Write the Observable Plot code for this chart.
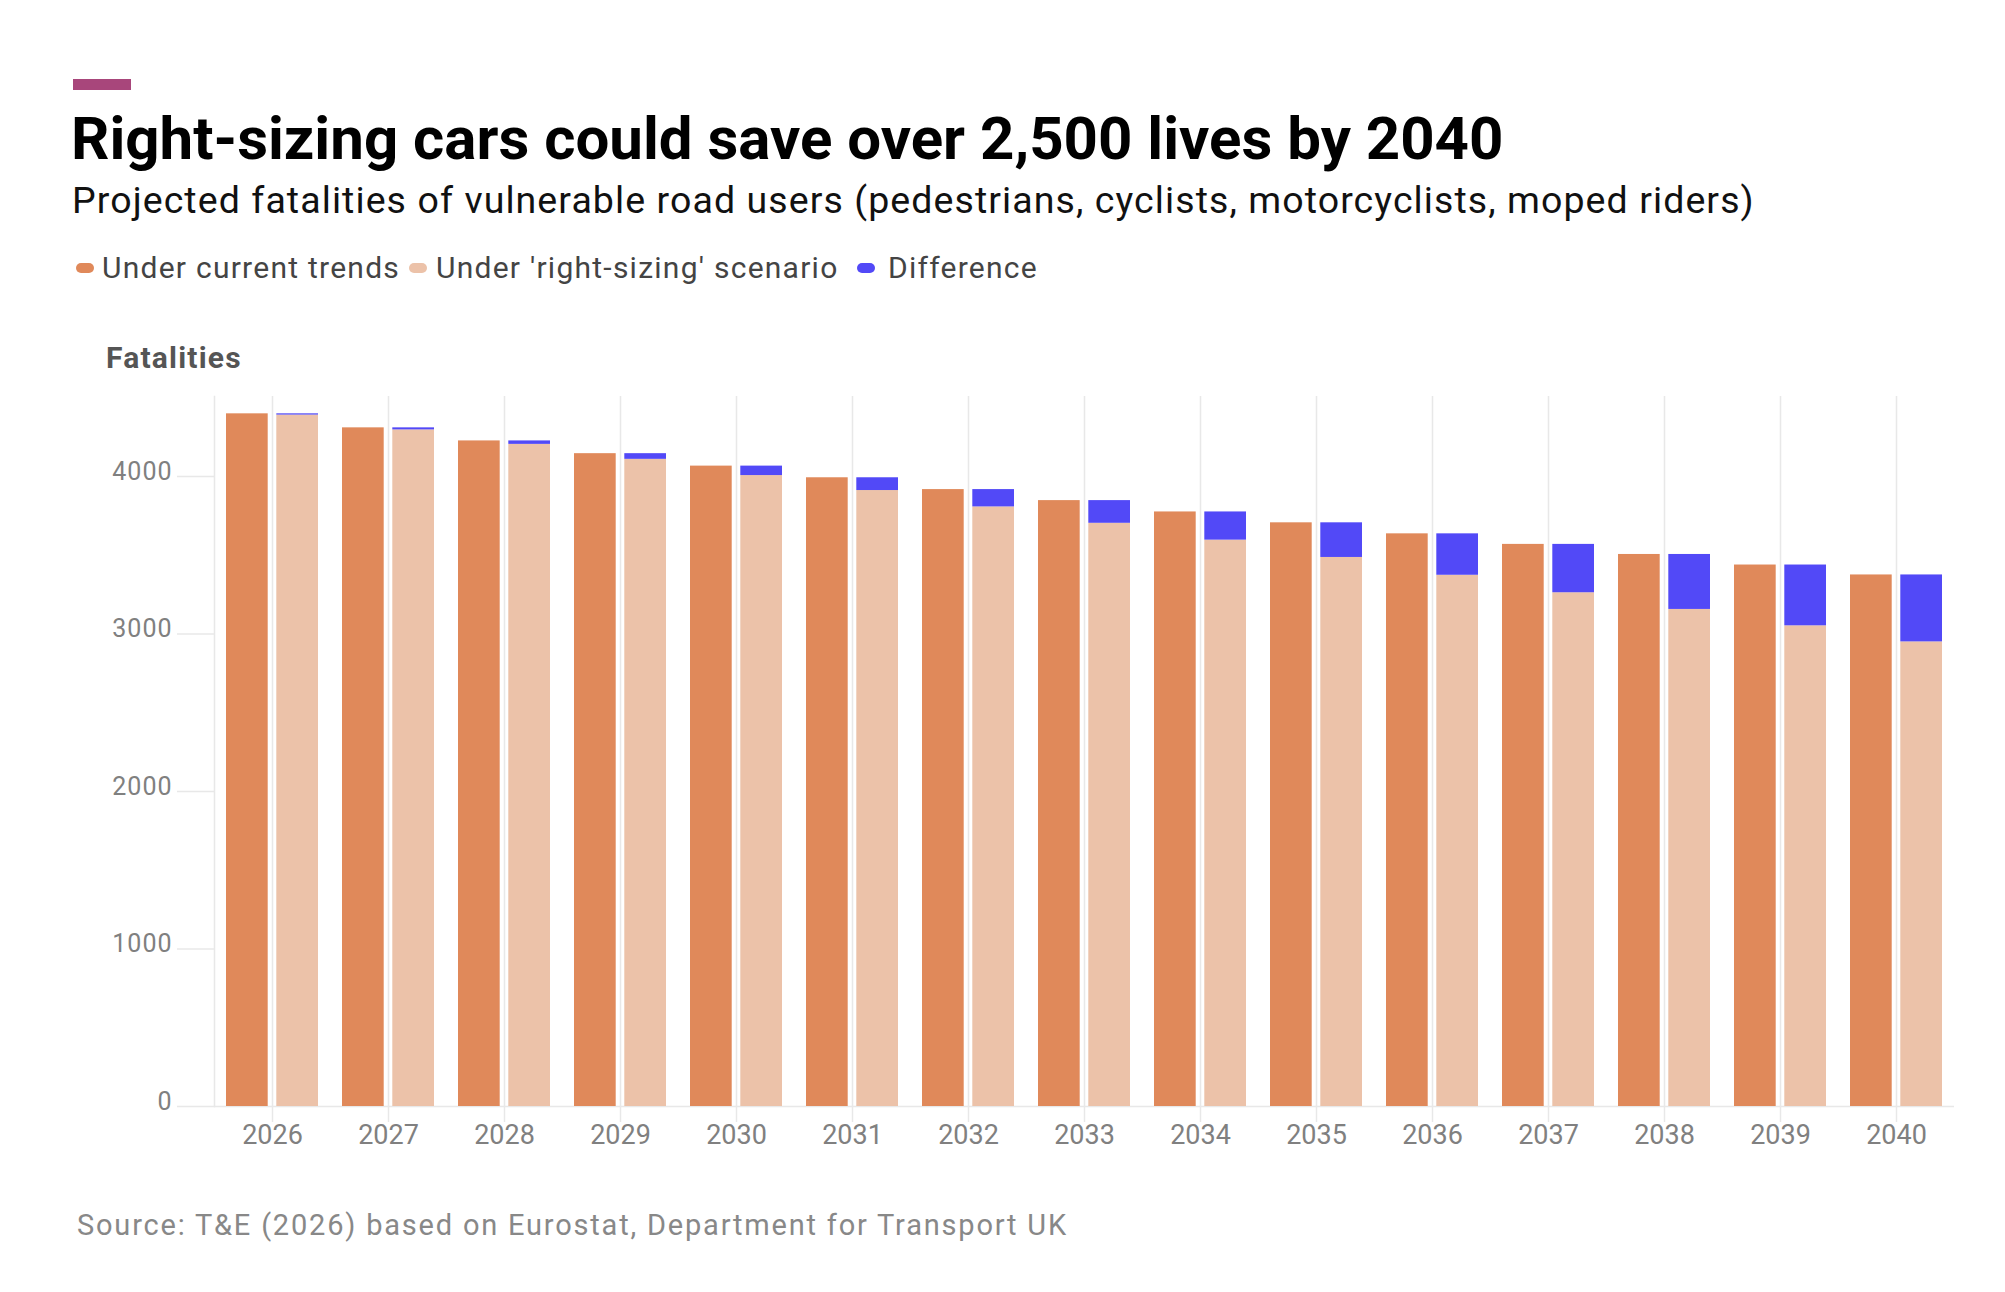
<!DOCTYPE html>
<html><head><meta charset="utf-8">
<script src="https://cdn.jsdelivr.net/npm/d3@7"></script>
<script src="https://cdn.jsdelivr.net/npm/@observablehq/plot@0.6"></script>
<style>
html,body{margin:0;padding:0;background:#fff;}
body{width:2005px;height:1292px;position:relative;font-family:Roboto,"Noto Sans",sans-serif;overflow:hidden;}
.abs{position:absolute;white-space:nowrap;line-height:1;}
#accent{left:73px;top:79px;width:58px;height:11px;background:#A8467B;}
#title{left:71px;top:109px;font-size:60px;font-weight:700;color:#000;}
#subtitle{left:72px;top:182px;font-size:37.5px;font-weight:400;color:#111;letter-spacing:1.08px;}
.sw{position:absolute;top:263px;height:10px;width:18px;border-radius:5px;}
.lt{font-size:30px;color:#444;top:253px;letter-spacing:1.25px;}
#ylab{left:106px;top:343px;font-size:30px;font-weight:700;color:#555;letter-spacing:1.2px;}
#source{left:77px;top:1211px;font-size:29px;color:#888;letter-spacing:1.8px;}
#chart{position:absolute;left:0;top:380px;}
</style>
</head><body>
<div id="accent" class="abs"></div>
<div id="title" class="abs">Right-sizing cars could save over 2,500 lives by 2040</div>
<div id="subtitle" class="abs">Projected fatalities of vulnerable road users (pedestrians, cyclists, motorcyclists, moped riders)</div>
<div class="sw" style="left:76px;background:#E0895A"></div>
<div class="abs lt" style="left:102px">Under current trends</div>
<div class="sw" style="left:409px;background:#ECC2A9"></div>
<div class="abs lt" style="left:436px">Under 'right-sizing' scenario</div>
<div class="sw" style="left:857px;background:#5249F7"></div>
<div class="abs lt" style="left:888px">Difference</div>
<div id="ylab" class="abs">Fatalities</div>
<div id="chart"></div>
<div id="source" class="abs">Source: T&amp;E (2026) based on Eurostat, Department for Transport UK</div>
<script>
const years = [2026, 2027, 2028, 2029, 2030, 2031, 2032, 2033, 2034, 2035, 2036, 2037, 2038, 2039, 2040];
const currentTrends = [4398, 4309, 4226, 4145, 4066, 3992, 3917, 3847, 3775, 3706, 3636, 3569, 3505, 3438, 3375];
const rightSizing = [4390, 4296, 4204, 4109, 4006, 3911, 3807, 3703, 3596, 3486, 3373, 3262, 3156, 3052, 2950];
const yTicks = [0, 1000, 2000, 3000, 4000];

const colCurrent = "#E0895A";
const colRight = "#ECC2A9";
const colDiff = "#5249F7";
const gridCol = "#e8e8e8";

const rows = years.map((y, i) => ({year: String(y), current: currentTrends[i], right: rightSizing[i]}));

const chart = Plot.plot({
  width: 2005,
  height: 786,
  marginTop: 16,
  marginBottom: 60,
  marginLeft: 214,
  marginRight: 51,
  x: {type: "band", domain: years.map(String), padding: 0, label: null},
  y: {domain: [0, 4508], label: null},
  style: {fontFamily: "Roboto, 'Noto Sans', sans-serif", background: "transparent"},
  marks: [
    Plot.gridX({stroke: gridCol, strokeOpacity: 1, strokeWidth: 1.5}),
    Plot.frame({anchor: "left", stroke: gridCol, strokeWidth: 1.5}),
    Plot.ruleY([0], {stroke: gridCol, strokeWidth: 1.5}),
    Plot.axisX({tickSize: 16, tickPadding: 2, stroke: gridCol, strokeOpacity: 1, strokeWidth: 1.5, fill: "#808080", fontSize: 27, label: null}),
    Plot.axisY({ticks: yTicks, tickSize: 37, tickFormat: () => "", stroke: gridCol, strokeOpacity: 1, strokeWidth: 1.5, label: null}),
    Plot.axisY({ticks: yTicks, tickSize: 0, tickPadding: 42, dy: -5, fill: "#808080", fontSize: 25, label: null, tickFormat: d => String(d)}),
    Plot.barY(rows, {x: "year", y: "current", fill: colCurrent, insetLeft: 12, insetRight: 62.3}),
    Plot.barY(rows, {x: "year", y: "right", fill: colRight, insetLeft: 62.3, insetRight: 12}),
    Plot.barY(rows, {x: "year", y1: "right", y2: "current", fill: colDiff, insetLeft: 62.3, insetRight: 12})
  ]
});
d3.select(chart).selectAll('[aria-label="y-axis tick label"] text').attr("letter-spacing", "1px");
document.getElementById("chart").appendChild(chart);
</script>
</body></html>
